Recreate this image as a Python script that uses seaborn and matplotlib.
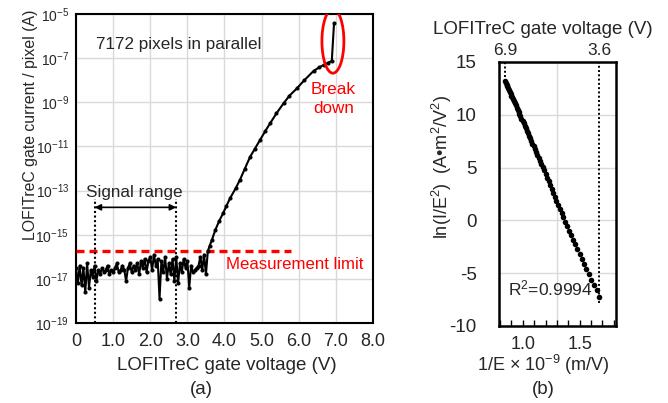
import numpy as np
import pandas as pd
import matplotlib
matplotlib.use('Agg')
import matplotlib.pyplot as plt
from matplotlib.patches import Ellipse
from matplotlib.ticker import MultipleLocator
import seaborn as sns

# (a) gate current per pixel, stored as log10(A)
noise_v = [0.00, 0.05, 0.10, 0.15, 0.20, 0.25, 0.30, 0.35, 0.40, 0.45,
           0.50, 0.55, 0.60, 0.65, 0.70, 0.75, 0.80, 0.85, 0.90, 0.95,
           1.00, 1.05, 1.10, 1.15, 1.20, 1.25, 1.30, 1.35, 1.40, 1.45,
           1.50, 1.55, 1.60, 1.65, 1.70, 1.75, 1.80, 1.85, 1.90, 1.95,
           2.00, 2.05, 2.10, 2.15, 2.20, 2.25, 2.30, 2.35, 2.40, 2.45,
           2.50, 2.55, 2.60, 2.65, 2.70, 2.75, 2.80, 2.85, 2.90, 2.95,
           3.00, 3.05, 3.10, 3.15, 3.20, 3.25, 3.30, 3.35, 3.40, 3.45, 3.50]
noise_log = [-16.5, -17.2, -16.4, -17.3, -16.5, -17.6, -16.3, -17.4, -16.6, -16.9,
             -16.4, -17.1, -16.6, -16.8, -16.5, -16.7, -16.6, -16.4, -16.8, -16.6,
             -16.7, -16.5, -16.3, -16.7, -16.6, -16.4, -16.6, -17.1, -16.5, -16.3,
             -16.7, -16.4, -16.6, -16.3, -16.8, -16.2, -16.5, -16.1, -16.7, -16.2,
             -16.0, -16.6, -15.9, -16.4, -16.1, -17.9, -16.2, -16.7, -16.0, -17.0,
             -16.3, -16.8, -16.1, -17.1, -16.0, -17.2, -16.3, -16.7, -16.1, -16.5,
             -16.2, -17.4, -16.4, -16.7, -16.6, -16.5, -16.4, -16.0, -16.6, -15.9, -16.8]
rise_v = [3.55, 3.60, 3.66, 3.75, 3.85, 3.97, 4.05, 4.15, 4.30, 4.42,
          4.55, 4.69, 4.82, 4.96, 5.10, 5.23, 5.40, 5.59, 5.75, 5.95,
          6.15, 6.40, 6.55, 6.67, 6.80, 6.89, 6.95]
rise_log = [-15.75, -15.5, -15.24, -14.8, -14.4, -14.0, -13.7, -13.35, -12.9, -12.5,
            -12.0, -11.47, -11.1, -10.7, -10.3, -9.95, -9.5, -9.05, -8.7, -8.37,
            -8.0, -7.58, -7.42, -7.31, -7.2, -7.13, -5.42]

signal_range = [0.5, 2.7]
meas_limit_log = -15.72

# (b) Fowler-Nordheim plot
fn_inv_e = [0.843, 0.850, 0.857, 0.863, 0.870, 0.877, 0.884, 0.892, 0.899, 0.906,
            0.914, 0.922, 0.929, 0.937, 0.945, 0.954, 0.962, 0.970, 0.979, 0.988,
            0.997, 1.006, 1.015, 1.024, 1.034, 1.043, 1.053, 1.063, 1.074, 1.084,
            1.095, 1.105, 1.116, 1.128, 1.139, 1.151, 1.163, 1.175, 1.187, 1.200,
            1.213, 1.226, 1.239, 1.253, 1.267, 1.281, 1.296, 1.310, 1.326, 1.341,
            1.357, 1.374, 1.390, 1.407, 1.425, 1.443, 1.461, 1.480, 1.499, 1.519,
            1.539, 1.560, 1.581, 1.603, 1.626, 1.649, 1.672]
fn_ln = [13.20, 13.03, 12.86, 12.71, 12.54, 12.36, 12.19, 11.99, 11.82, 11.65,
         11.45, 11.26, 11.08, 10.89, 10.69, 10.47, 10.27, 10.08, 9.85, 9.63,
         9.41, 9.19, 8.97, 8.75, 8.50, 8.28, 8.03, 7.79, 7.52, 7.27,
         7.00, 6.76, 6.48, 6.19, 5.92, 5.62, 5.33, 5.03, 4.74, 4.40,
         4.05, 3.70, 3.35, 2.97, 2.60, 2.24, 1.85, 1.48, 1.07, 0.68,
         0.28, -0.15, -0.55, -0.97, -1.42, -1.85, -2.28, -2.74, -3.20, -3.68,
         -4.15, -4.62, -5.10, -5.62, -6.15, -6.62, -7.25]
top_labels = ['6.9', '3.6']

GRID = '#d9d9d9'
RED = '#ff0000'

sns.set_style('white')
plt.rcParams['font.family'] = ['Liberation Sans', 'DejaVu Sans']
plt.rcParams['mathtext.fontset'] = 'custom'
plt.rcParams['mathtext.rm'] = 'Liberation Sans'
plt.rcParams['mathtext.it'] = 'Liberation Sans:italic'
plt.rcParams['mathtext.default'] = 'regular'
plt.rcParams['axes.unicode_minus'] = False

fig = plt.figure(figsize=(6.68, 4.03), dpi=100)
W, H = 668, 403


def px_axes(l, t, r, b):
    return fig.add_axes([l / W, 1 - b / H, (r - l) / W, (b - t) / H])


# ---------- (a) ----------
ax = px_axes(76, 14, 373, 323)
df_a = pd.DataFrame({'v': noise_v + rise_v,
                     'i': 10.0 ** np.array(noise_log + rise_log)})
sns.lineplot(data=df_a, x='v', y='i', ax=ax, color='black', lw=1.5,
             sort=False, estimator=None, marker='o', markersize=2.2,
             markeredgecolor='black', zorder=4)
ax.set_yscale('log')
ax.set_xlim(0, 8)
ax.set_ylim(1e-19, 1e-5)
major_exp = list(range(-19, -4, 2))
ax.set_yticks([10.0 ** e for e in major_exp])
ax.set_yticklabels([f'$10^{{{e}}}$' for e in major_exp])
ax.set_yticks([10.0 ** e for e in range(-18, -5, 2)], minor=True)
ax.set_yticklabels([], minor=True)
ax.set_xticks(range(0, 9))
ax.set_xticklabels(['0'] + [f'{v:.1f}' for v in range(1, 9)])
ax.xaxis.set_minor_locator(MultipleLocator(0.5))
ax.grid(True, which='major', color=GRID, lw=1)
ax.tick_params(axis='both', which='both', direction='in', length=4, width=1, color='black')
ax.tick_params(axis='x', labelsize=13, pad=7)
ax.tick_params(axis='y', labelsize=10, pad=5)
ax.set_xlabel('')
ax.set_ylabel('')
for s in ax.spines.values():
    s.set_color('black')
    s.set_linewidth(1.5)

ax.hlines(10.0 ** meas_limit_log, 0, 5.8, colors=RED, lw=2.4,
          linestyles=(0, (2.4, 1.5)), zorder=3)
ax.vlines(signal_range, 1e-19, 10.0 ** -13.4, colors='black', lw=1.5,
          linestyles=(0, (1, 1.2)), zorder=3)
ax.annotate('', xy=(signal_range[0], 10.0 ** -13.76), xytext=(signal_range[1], 10.0 ** -13.76),
            arrowprops=dict(arrowstyle='<|-|>', color='black', lw=1.2,
                            mutation_scale=9, shrinkA=0, shrinkB=0))
ax.text(1.58, 10.0 ** -13.1, 'Signal range', fontsize=12.3, ha='center', va='center')
ax.text(0.54, 10.0 ** -6.36, '7172 pixels in parallel', fontsize=12.3, ha='left', va='center')
ax.text(4.03, 10.0 ** -16.37, 'Measurement limit', fontsize=12.1, color=RED, ha='left', va='center')
ax.text(6.93, 10.0 ** -8.85, 'Break\ndown', fontsize=12.3, color=RED, ha='center',
        va='center', linespacing=1.35)
ax.add_patch(Ellipse((0.865, 0.912), 0.074, 0.207, transform=ax.transAxes,
                     fill=False, edgecolor=RED, lw=2, zorder=5))

fig.text(31 / W, 1 - 125 / H, 'LOFITreC gate current / pixel (A)', rotation=90,
         fontsize=11.4, ha='center', va='center')
fig.text(226.7 / W, 1 - 365 / H, 'LOFITreC gate voltage (V)', fontsize=13.5,
         ha='center', va='center')
fig.text(201.7 / W, 1 - 390 / H, '(a)', fontsize=13.5, ha='center', va='center')

# ---------- (b) ----------
ax2 = px_axes(499, 62, 616, 326)
sns.scatterplot(x=fn_inv_e, y=fn_ln, ax=ax2, color='black', s=16,
                edgecolor='black', linewidth=0, zorder=4)
ax2.set_xlim(0.79, 1.82)
ax2.set_ylim(-10, 15)
ax2.set_yticks(range(-10, 16, 5))
ax2.yaxis.set_minor_locator(MultipleLocator(1))
ax2.set_xticks([1.0, 1.5])
ax2.set_xticklabels(['1.0', '1.5'])
ax2.xaxis.set_minor_locator(MultipleLocator(0.1))
ax2.grid(True, axis='y', which='major', color=GRID, lw=1)
ax2.axvline(1.3, color=GRID, lw=1, zorder=0)
ax2.tick_params(axis='both', which='both', direction='in', length=4, width=1, color='black')
ax2.tick_params(axis='y', labelsize=13.5, pad=16)
ax2.tick_params(axis='x', labelsize=13, pad=7)
for s in ax2.spines.values():
    s.set_color('black')
    s.set_linewidth(1.8)

ax2.vlines(fn_inv_e[0], fn_ln[0] + 0.4, 15, colors='black', lw=1.4,
           linestyles=(0, (1, 1.2)), zorder=3)
ax2.vlines(fn_inv_e[-1], -7.8, 15, colors='black', lw=1.4,
           linestyles=(0, (1, 1.2)), zorder=3)
ax2.text(0.87, -6.4, 'R$^{2}$=0.9994', fontsize=12.5, ha='left', va='center')

top = ax2.twiny()
top.set_xlim(ax2.get_xlim())
top.set_xticks([fn_inv_e[0], fn_inv_e[-1]])
top.set_xticklabels(top_labels)
top.tick_params(axis='x', length=0, labelsize=12.5, pad=3)
for s in top.spines.values():
    s.set_visible(False)

fig.text(542.5 / W, 1 - 29 / H, 'LOFITreC gate voltage (V)', fontsize=13.5,
         ha='center', va='center')
fig.text(441.7 / W, 1 - 166.5 / H, 'ln(I/E$^{2}$)  (A\u2022m$^{2}$/V$^{2}$)', rotation=90,
         fontsize=13, ha='center', va='center')
fig.text(543 / W, 1 - 365 / H, '1/E $\\times$ 10$^{-9}$ (m/V)', fontsize=13,
         ha='center', va='center')
fig.text(543 / W, 1 - 390 / H, '(b)', fontsize=13.5, ha='center', va='center')

fig.savefig('out.png', dpi=100)
